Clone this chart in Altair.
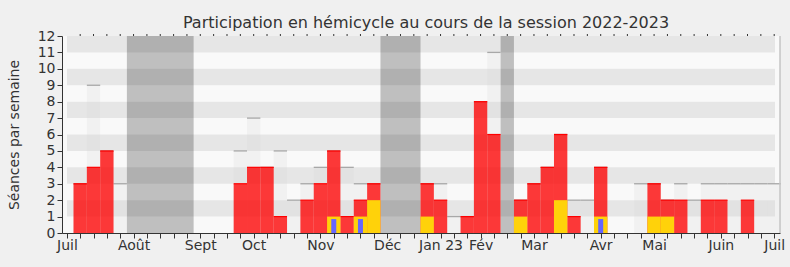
import altair as alt
import pandas as pd

# week index 0 = week of Monday 4 July 2022
weeks = list(range(53))
presence = [3, 4, 5, 0, 0, 0, 0, 0, 0, 0, 0, 0, 3, 4, 4, 1, 0, 2, 3, 5, 1, 2, 3, 0, 0, 0,
            3, 2, 0, 1, 8, 6, 0, 2, 3, 4, 6, 1, 0, 4, 0, 0, 0, 3, 2, 2, 0, 2, 2, 0, 2, 0, 0]
seances = [3, 9, 5, 3, 0, 0, 0, 0, 0, 0, 0, 0, 5, 7, 4, 5, 2, 3, 4, 5, 4, 3, 3, 0, 0, 0,
           3, 3, 1, 1, 8, 11, 0, 2, 3, 4, 6, 2, 2, 4, 0, 0, 3, 3, 2, 3, 2, 3, 3, 3, 3, 3, 3]
interventions = [0] * 53
for w, v in [(19, 1), (21, 1), (22, 2), (26, 1), (33, 1), (36, 2), (39, 1), (43, 1), (44, 1)]:
    interventions[w] = v
questions = [0] * 53
for w in [19, 21, 39]:
    questions[w] = 1

vac_start = [4, 23, 32]
vac_end = [9, 26, 33]

month_pos = [-0.49, 4.5, 9.5, 13.5, 18.5, 23.5, 27.5, 30.5, 34.5, 39.5, 43.5, 48.5, 52.5]
month_lab = ["Juil", "Août", "Sept", "Oct", "Nov", "Déc", "Jan 23", "Fév", "Mar", "Avr", "Mai", "Juin", "Juil"]

W, H = 718, 197
FONT = "DejaVu Sans"
XMIN, XMAX = -0.487, 52.56

df = pd.DataFrame({"w": weeks, "p": presence, "s": seances, "i": interventions, "q": questions})
df["w2"] = df["w"] + 1
df["c"] = df["w"] + 0.5
vac = pd.DataFrame({"a": vac_start, "b": vac_end})
bands = pd.DataFrame({"lo": [1, 3, 5, 7, 9, 11]})
bands["hi"] = bands["lo"] + 1
week_ticks = pd.DataFrame({"t": [k + 0.5 for k in range(53)]})

xs = alt.Scale(domain=[XMIN, XMAX], nice=False, zero=False)
ys = alt.Scale(domain=[0, 12], nice=False)

mapping = "{" + ",".join(f"'{p}':'{l}'" for p, l in zip(month_pos, month_lab)) + "}"
tick_vals = [month_pos[0]] + [k + 0.5 for k in range(53)]

xaxis = alt.Axis(values=tick_vals, tickCount=200, labelExpr=f"{mapping}[datum.value] || ''",
                 labelOverlap=False, labelFlush=False, tickSize=5, tickColor="#333333",
                 domainColor="#333333", labelFont=FONT, labelFontSize=14, labelColor="#333333",
                 labelPadding=0, grid=False, title=None)
yaxis = alt.Axis(values=list(range(13)), tickCount=200, format="d", tickSize=5, tickColor="#333333",
                 domainColor="#333333", labelFont=FONT, labelFontSize=14, labelColor="#333333",
                 labelPadding=2, labelOverlap=False, grid=False, title="Séances par semaine",
                 titleFont=FONT, titleFontSize=14, titleFontWeight="normal", titleColor="#333333",
                 titlePadding=16)

vac_layer = alt.Chart(vac).mark_rect(color="#bfbfbf").encode(
    x=alt.X("a:Q", scale=xs, axis=xaxis), x2="b:Q",
    y=alt.Y("y0:Q", scale=ys, axis=yaxis), y2="y1:Q"
).transform_calculate(y0="0", y1="12")

band_layer = alt.Chart(bands).mark_rect(color="#000000", opacity=0.076).encode(
    x=alt.datum(XMIN, type="quantitative"), x2=alt.datum(XMAX),
    y=alt.Y("lo:Q"), y2="hi:Q"
)

mx = df[df["s"] > 0]
max_col = alt.Chart(mx).mark_rect(color="#d8d8d8", opacity=0.22).encode(
    x="w:Q", x2="w2:Q", y="s:Q", y2=alt.datum(0)
)
max_line = alt.Chart(mx).mark_rule(color="#a8a8a8", strokeWidth=1.3).encode(
    x="w:Q", x2="w2:Q", y="s:Q"
)

pr = df[df["p"] > 0]
red = alt.Chart(pr).mark_rect(color="#ff0000", opacity=0.77).encode(
    x="w:Q", x2="w2:Q", y="p:Q", y2=alt.datum(0)
)
red_top = alt.Chart(pr).mark_rule(color="#ff0000", strokeWidth=1.2).encode(
    x="w:Q", x2="w2:Q", y="p:Q"
)

it = df[df["i"] > 0]
yellow = alt.Chart(it).mark_rect(color="#ffd20a").encode(
    x="w:Q", x2="w2:Q", y="i:Q", y2=alt.datum(0)
)

qu = df[df["q"] > 0]
blue = alt.Chart(qu).mark_bar(color="#6666ff", size=5).encode(
    x="c:Q", y="qh:Q", y2=alt.datum(0)
).transform_calculate(qh="datum.q * 0.85")

right_edge = alt.Chart(pd.DataFrame({"k": [0]})).mark_rule(color="#c4c4c4", strokeWidth=1.5).encode(
    x=alt.value(W), y=alt.value(0), y2=alt.value(H)
)

top_ticks = alt.Chart(week_ticks).mark_rule(color="#333333", strokeWidth=1).encode(
    x="t:Q", y=alt.value(-2), y2=alt.value(0)
)

chart = alt.layer(vac_layer, band_layer, max_col, max_line, red, red_top, yellow, blue,
                  right_edge, top_ticks).properties(
    width=W, height=H,
    title=alt.TitleParams("Participation en hémicycle au cours de la session 2022-2023",
                          font=FONT, fontSize=16, fontWeight="normal", color="#333333",
                          anchor="middle", baseline="alphabetic", offset=-15, dx=5),
    padding={"left": 62, "top": 36, "right": 10, "bottom": 34},
    autosize=alt.AutoSizeParams(type="none"),
    background="#f0f0f0",
).configure_view(fill="#f9f9f9", stroke=None)

chart.save("out.html", embed_options={"renderer": "svg", "actions": False})
